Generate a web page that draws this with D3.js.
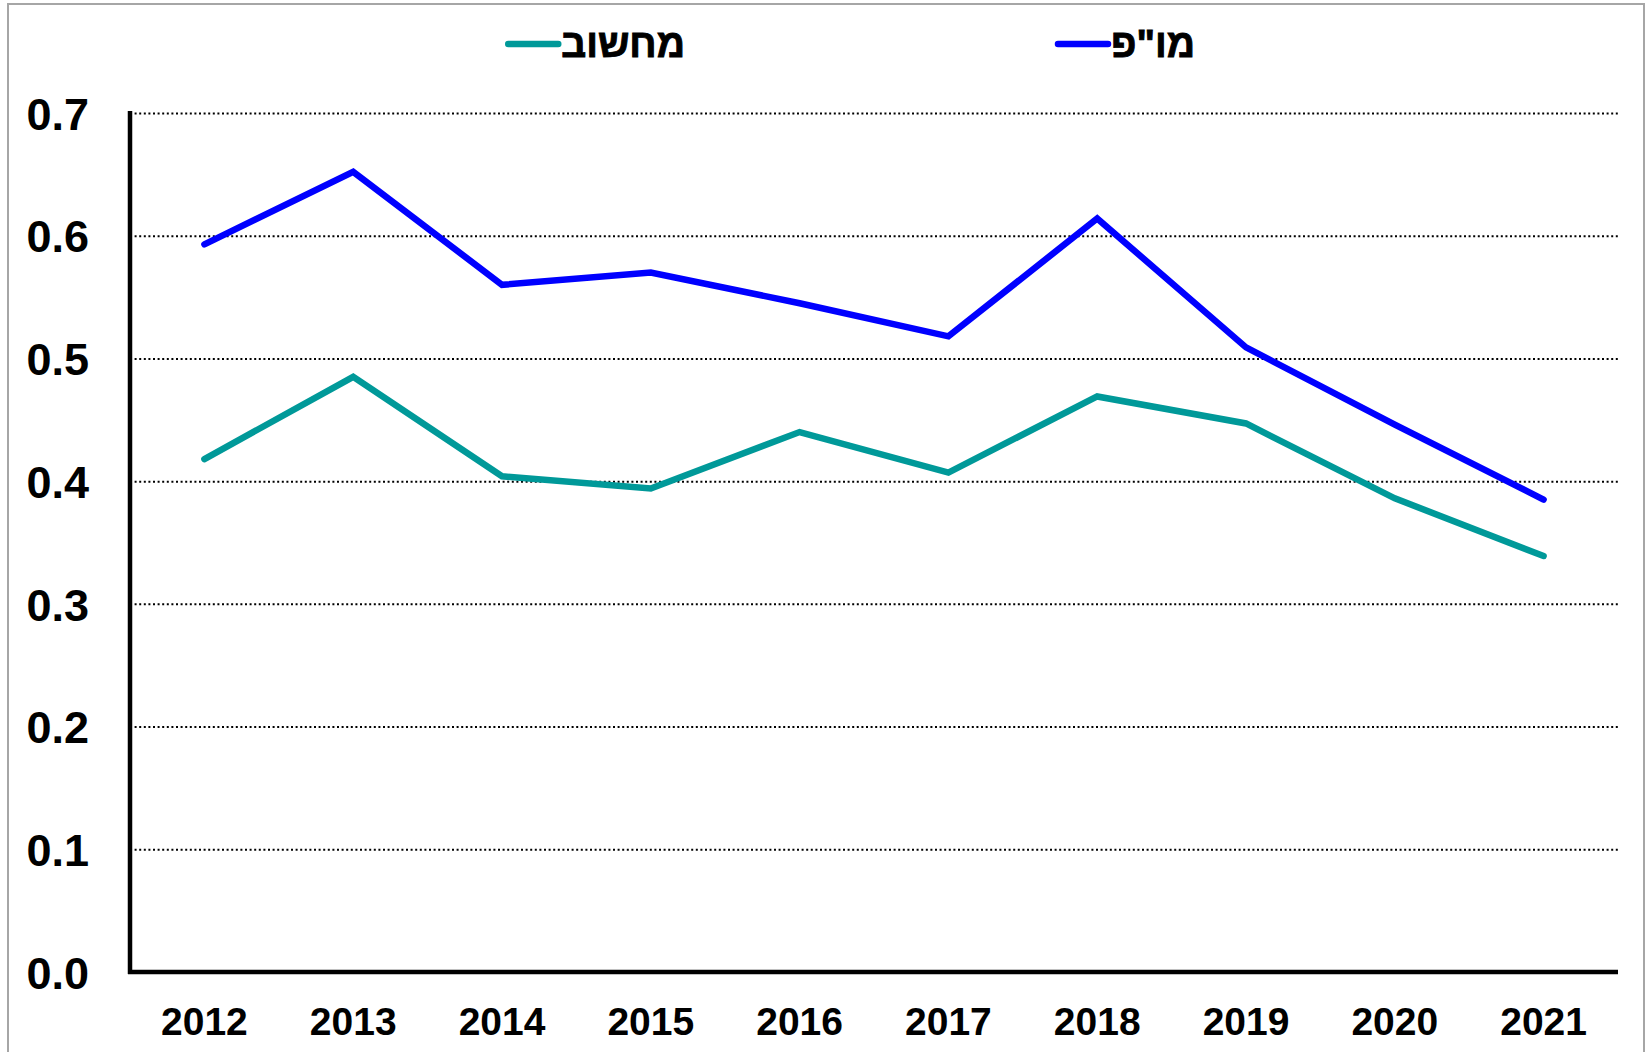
<!DOCTYPE html>
<html lang="he">
<head>
<meta charset="utf-8">
<script src="https://cdn.jsdelivr.net/npm/d3@7"></script>
<style>
  html, body { margin: 0; padding: 0; background: #fff; }
  svg { display: block; }
  text { font-family: "Liberation Sans", Arial, sans-serif; font-weight: bold; fill: #000; }
  .legend-label { font-family: "Liberation Sans", Arial, sans-serif; font-weight: bold; stroke: #000; stroke-width: 0.9px; }
</style>
</head>
<body>
<svg id="chart" width="1647" height="1052"></svg>
<script>
// Years on the horizontal axis
const years = [2012, 2013, 2014, 2015, 2016, 2017, 2018, 2019, 2020, 2021];

// Series values
const rndValues = [0.593, 0.652, 0.560, 0.570, 0.545, 0.518, 0.614, 0.509, 0.446, 0.385];      // מו"פ
const computingValues = [0.418, 0.485, 0.404, 0.394, 0.440, 0.407, 0.469, 0.447, 0.386, 0.339]; // מחשוב

// Vertical axis ticks
const yTicks = [0, 0.1, 0.2, 0.3, 0.4, 0.5, 0.6, 0.7];

const series = [
  { name: "מחשוב", values: computingValues, color: "#009999" },
  { name: "מו\"פ", values: rndValues, color: "#0000ff" }
];

const svg = d3.select("#chart");
const W = 1647, H = 1052;
const plot = { left: 130, right: 1618, top: 113, bottom: 972 };

// Outer frame
svg.append("rect")
  .attr("x", 8).attr("y", 4)
  .attr("width", 1636).attr("height", H + 20)
  .attr("fill", "none")
  .attr("stroke", "#a6a6a6")
  .attr("stroke-width", 2);

const x = d3.scaleBand().domain(years).range([plot.left, plot.right]);
const y = d3.scaleLinear().domain([0, 0.7]).range([plot.bottom, plot.top]);
const cx = d => x(d) + x.bandwidth() / 2;

// Dotted gridlines
const yAxisGrid = d3.axisRight(y)
  .tickValues(yTicks.filter(t => t > 0))
  .tickSize(plot.right - plot.left)
  .tickFormat("");
svg.append("g")
  .attr("transform", `translate(${plot.left},0)`)
  .call(yAxisGrid)
  .call(g => g.select(".domain").remove())
  .call(g => g.selectAll("line")
    .attr("stroke", "#000")
    .attr("stroke-width", 2)
    .attr("stroke-dasharray", "2,2.6"));

// Y tick labels
const yAxis = d3.axisLeft(y)
  .tickValues(yTicks)
  .tickSize(0)
  .tickPadding(0)
  .tickFormat(d3.format(".1f"));
svg.append("g")
  .attr("transform", "translate(89,0)")
  .call(yAxis)
  .call(g => g.select(".domain").remove())
  .call(g => g.selectAll("text")
    .attr("font-size", 45)
    .attr("font-family", "'Liberation Sans', Arial, sans-serif")
    .attr("font-weight", "bold")
    .attr("fill", "#000")
    .attr("dy", "0.36em"));

// X tick labels
const xAxis = d3.axisBottom(x).tickSize(0).tickPadding(0);
svg.append("g")
  .attr("transform", `translate(0,${plot.bottom})`)
  .call(xAxis)
  .call(g => g.select(".domain").remove())
  .call(g => g.selectAll("text")
    .attr("font-size", 39)
    .attr("font-family", "'Liberation Sans', Arial, sans-serif")
    .attr("font-weight", "bold")
    .attr("fill", "#000")
    .attr("dy", 0)
    .attr("y", 63));

// Axis lines
svg.append("line")
  .attr("x1", plot.left).attr("x2", plot.left)
  .attr("y1", 111).attr("y2", plot.bottom + 2)
  .attr("stroke", "#000").attr("stroke-width", 4.5);
svg.append("line")
  .attr("x1", plot.left - 2).attr("x2", plot.right)
  .attr("y1", plot.bottom).attr("y2", plot.bottom)
  .attr("stroke", "#000").attr("stroke-width", 4.5);

// Series lines
const line = d3.line()
  .x((d, i) => cx(years[i]))
  .y(d => y(d));

svg.append("g").selectAll("path")
  .data(series)
  .join("path")
  .attr("d", s => line(s.values))
  .attr("fill", "none")
  .attr("stroke", s => s.color)
  .attr("stroke-width", 6.5)
  .attr("stroke-linecap", "round")
  .attr("stroke-linejoin", "miter");

// Legend: label right-aligned, short line just left of it
const legendItems = [
  { s: series[0], tx: 685 },
  { s: series[1], tx: 1195 }
];
const legend = svg.append("g");
legendItems.forEach(it => {
  const t = legend.append("text")
    .attr("class", "legend-label")
    .attr("x", it.tx).attr("y", 57)
    .attr("text-anchor", "end")
    .attr("font-size", 39)
    .text(it.s.name);
  const bb = t.node().getBBox();
  const lineEnd = bb.x - 3;
  legend.append("line")
    .attr("x1", lineEnd - 50).attr("x2", lineEnd)
    .attr("y1", 44).attr("y2", 44)
    .attr("stroke", it.s.color)
    .attr("stroke-width", 6.5)
    .attr("stroke-linecap", "round");
});
</script>
</body>
</html>
